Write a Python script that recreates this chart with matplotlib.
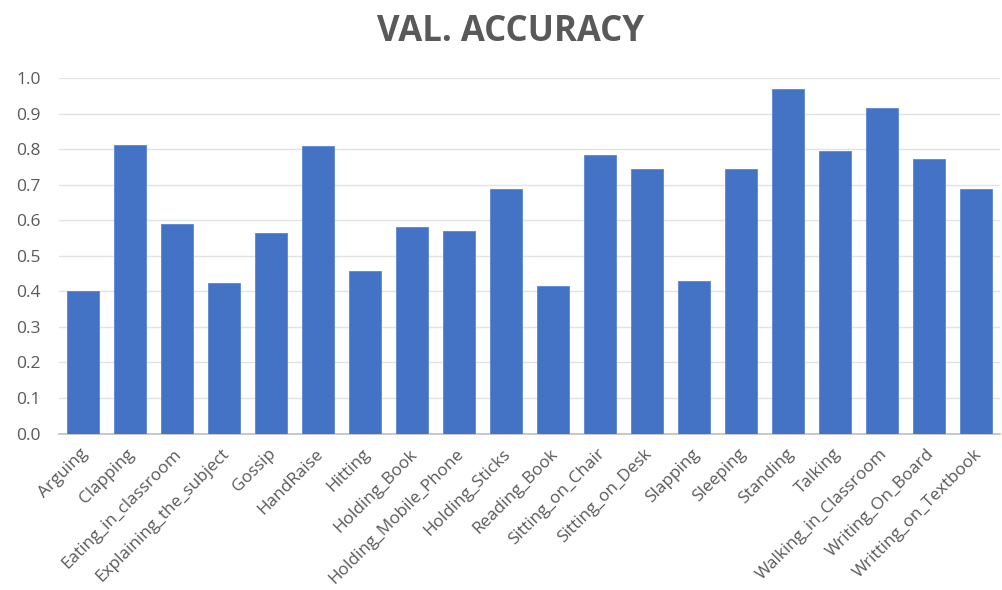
import matplotlib
matplotlib.use("Agg")
import matplotlib.pyplot as plt
from matplotlib.transforms import ScaledTranslation

categories = ["Arguing", "Clapping", "Eating_in_classroom", "Explaining_the_subject",
              "Gossip", "HandRaise", "Hitting", "Holding_Book", "Holding_Mobile_Phone",
              "Holding_Sticks", "Reading_Book", "Sitting_on_Chair", "Sitting_on_Desk",
              "Slapping", "Sleeping", "Standing", "Talking", "Walking_in_Classroom",
              "Writing_On_Board", "Writting_on_Textbook"]
values = [0.401, 0.811, 0.588, 0.423, 0.563, 0.809, 0.456, 0.580, 0.571, 0.689,
          0.414, 0.783, 0.745, 0.429, 0.745, 0.968, 0.795, 0.915, 0.772, 0.689]
yticks = [0.0, 0.1, 0.2, 0.3, 0.4, 0.5, 0.6, 0.7, 0.8, 0.9, 1.0]

plt.rcParams['font.family'] = ['Open Sans', 'DejaVu Sans']

fig = plt.figure(figsize=(10.03, 5.9), dpi=100)
ax = fig.add_axes([59/1003, 1 - 433.5/590, 941/1003, 355.5/590])

x = list(range(len(categories)))
ax.bar(x, values, width=0.68, color="#4472C4", edgecolor="#5B86D4", linewidth=0.6, zorder=3)

ax.set_xlim(-0.5, len(categories) - 0.5)
ax.set_ylim(0, 1.0)
ax.set_yticks(yticks)
ax.set_yticklabels([f"{t:.1f}" for t in yticks], color="#595959", fontsize=12.5)
ax.set_xticks(x)
ax.set_xticklabels(categories, rotation=45, ha="right", va="top", rotation_mode="anchor",
                   color="#595959", fontsize=12.3)
ax.tick_params(axis="both", length=0)
ax.tick_params(axis="y", pad=13)
ax.tick_params(axis="x", pad=9)
off = ScaledTranslation(-3/100, 0, fig.dpi_scale_trans)
for lbl in ax.get_xticklabels():
    lbl.set_transform(lbl.get_transform() + off)

ax.grid(axis="y", color="#E3E3E3", linewidth=1.0, zorder=0)
for s in ["top", "right", "left"]:
    ax.spines[s].set_visible(False)
ax.spines["bottom"].set_color("#BFBFBF")
ax.spines["bottom"].set_linewidth(1.2)

fig.text(511/1003, 1 - 41/590, "VAL. ACCURACY", ha="center", va="baseline",
         fontsize=25, fontweight="bold", color="#595959")

fig.savefig("out.png", dpi=100)
